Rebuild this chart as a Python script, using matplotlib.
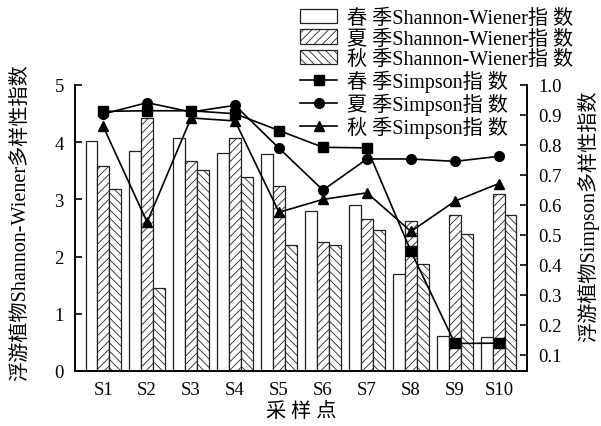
import numpy as np
import matplotlib
matplotlib.use('Agg')
import matplotlib.pyplot as plt

plt.rcParams['font.family'] = ['Liberation Serif', 'Noto Sans CJK SC']
plt.rcParams['hatch.linewidth'] = 0.6

sites = ['S1', 'S2', 'S3', 'S4', 'S5', 'S6', 'S7', 'S8', 'S9', 'S10']

# Shannon-Wiener
sw_spring = [4.02, 3.85, 4.08, 3.81, 3.80, 2.79, 2.91, 1.70, 0.61, 0.60]
sw_summer = [3.59, 4.42, 3.68, 4.08, 3.23, 2.25, 2.65, 2.63, 2.72, 3.09]
sw_autumn = [3.19, 1.45, 3.52, 3.39, 2.20, 2.21, 2.47, 1.87, 2.39, 2.72]

# Simpson
sp_spring = [0.912, 0.914, 0.914, 0.904, 0.848, 0.792, 0.790, 0.445, 0.137, 0.138]
sp_summer = [0.903, 0.941, 0.910, 0.932, 0.789, 0.649, 0.753, 0.753, 0.745, 0.762]
sp_autumn = [0.862, 0.542, 0.890, 0.880, 0.575, 0.618, 0.640, 0.511, 0.612, 0.671]

x = np.arange(len(sites))
w = 0.267

fig = plt.figure(figsize=(6.01, 4.27), dpi=100)
ax = fig.add_axes([75/601, 55/427, 452/601, 286/427])
ax2 = ax.twinx()

b1 = ax.bar(x - w, sw_spring, w, facecolor='white', edgecolor='#222222', linewidth=0.9,
            label='春 季Shannon-Wiener指 数')
b2 = ax.bar(x, sw_summer, w, facecolor='white', edgecolor='#222222', linewidth=0.9,
            hatch='////', label='夏 季Shannon-Wiener指 数')
b3 = ax.bar(x + w, sw_autumn, w, facecolor='white', edgecolor='#222222', linewidth=0.9,
            hatch='\\\\\\\\', label='秋 季Shannon-Wiener指 数')

l1, = ax2.plot(x, sp_spring, color='black', marker='s', markersize=6.5, linewidth=1.2,
               label='春 季Simpson指 数')
l2, = ax2.plot(x, sp_summer, color='black', marker='o', markersize=7, linewidth=1.2,
               label='夏 季Simpson指 数')
l3, = ax2.plot(x, sp_autumn, color='black', marker='^', markersize=7, linewidth=1.2,
               label='秋 季Simpson指 数')

ax.set_xlim(-0.64, 9.64)
ax.set_ylim(0, 5)
ax2.set_ylim(0.045, 1.0)
ax.set_yticks([0, 1, 2, 3, 4, 5])
ax2.set_yticks([0.1, 0.2, 0.3, 0.4, 0.5, 0.6, 0.7, 0.8, 0.9, 1.0])
ax2.set_yticklabels(['0.1', '0.2', '0.3', '0.4', '0.5', '0.6', '0.7', '0.8', '0.9', '1.0'])
ax.set_xticks(x)
ax.set_xticklabels(sites)

for a in (ax, ax2):
    a.spines['top'].set_visible(False)
    for s in a.spines.values():
        s.set_linewidth(1.2)
ax.tick_params(axis='y', direction='in', length=5, width=1.2, labelsize=13.5, pad=8)
ax2.tick_params(axis='y', direction='in', length=5, width=1.2, labelsize=13.5, pad=8)
ax.tick_params(axis='x', length=0, labelsize=13.5, pad=7)

# axis titles
fig.text(21/601, 1 - 223/427, '浮游植物Shannon-Wiener多样性指数', fontsize=14.5,
         rotation=90, ha='center', va='center')
fig.text(588/601, 1 - 216/427, '浮游植物Simpson多样性指数', fontsize=14.5,
         rotation=90, ha='center', va='center')
fig.text(301/601, 1 - 412/427, '采 样 点', fontsize=14.5, ha='center', va='center')

handles = [b1, b2, b3, l1, l2, l3]
ax.legend(handles, [h.get_label() for h in handles], loc='upper left',
          bbox_to_anchor=(294/601, 1 - 4/427), bbox_transform=fig.transFigure,
          frameon=False, fontsize=14.5, handlelength=1.85, handleheight=0.7,
          labelspacing=0.05, borderaxespad=0.1, handletextpad=0.5, borderpad=0.2)

fig.savefig('out.png', dpi=100)
